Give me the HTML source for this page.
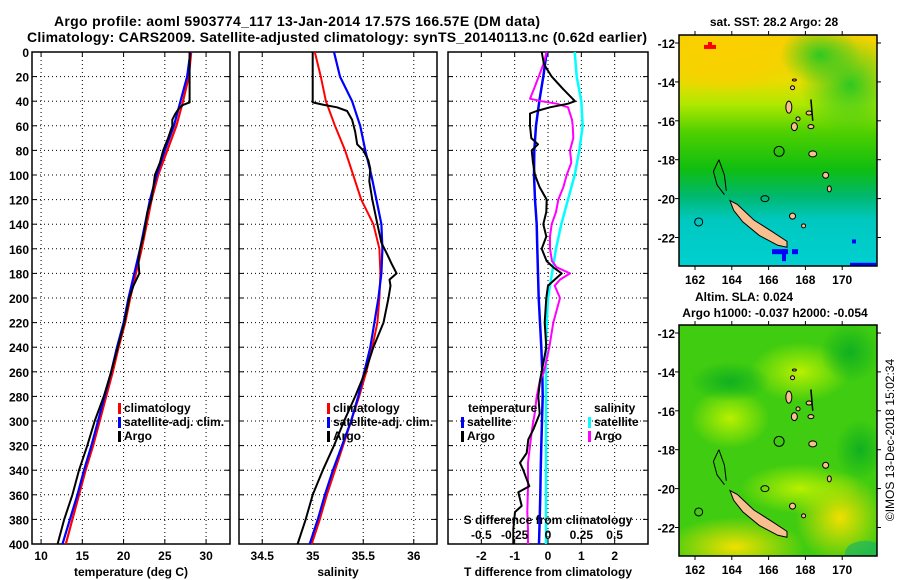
<!DOCTYPE html>
<html><head><meta charset="utf-8"><style>
html,body{margin:0;padding:0;background:#fff;}
svg{display:block;font-family:"Liberation Sans",sans-serif;font-weight:bold;}
</style></head><body>
<svg id="fig" width="900" height="580" viewBox="0 0 900 580" xmlns="http://www.w3.org/2000/svg">
<defs>
<linearGradient id="sstg" x1="0" y1="0" x2="0" y2="1">
<stop offset="0" stop-color="#f8d000"/><stop offset="0.2" stop-color="#e8dc00"/><stop offset="0.3" stop-color="#b0e800"/>
<stop offset="0.42" stop-color="#50d000"/><stop offset="0.58" stop-color="#10be10"/><stop offset="0.7" stop-color="#00b870"/>
<stop offset="0.8" stop-color="#00c8c0"/><stop offset="1" stop-color="#00d0d0"/></linearGradient>
<radialGradient id="sstY" cx="0.5" cy="0.5" r="0.5"><stop offset="0" stop-color="#fcd000"/><stop offset="0.6" stop-color="#f8d000" stop-opacity="0.8"/><stop offset="1" stop-color="#f8d000" stop-opacity="0"/></radialGradient>
<radialGradient id="sstG" cx="0.5" cy="0.5" r="0.5"><stop offset="0" stop-color="#30c820"/><stop offset="1" stop-color="#30c820" stop-opacity="0"/></radialGradient>
<radialGradient id="sla1" cx="0.5" cy="0.5" r="0.5"><stop offset="0" stop-color="#b8f000"/><stop offset="1" stop-color="#b8f000" stop-opacity="0"/></radialGradient>
<radialGradient id="sla2" cx="0.5" cy="0.5" r="0.5"><stop offset="0" stop-color="#f0e000"/><stop offset="1" stop-color="#f0e000" stop-opacity="0"/></radialGradient>
<radialGradient id="sla3" cx="0.5" cy="0.5" r="0.5"><stop offset="0" stop-color="#10b020"/><stop offset="1" stop-color="#10b020" stop-opacity="0"/></radialGradient>
<clipPath id="clip1"><rect x="679" y="35" width="198" height="231"/></clipPath>
<clipPath id="clip2"><rect x="679" y="325" width="198" height="231"/></clipPath>
</defs>
<g>
<text x="297" y="26" text-anchor="middle" font-size="14" textLength="486">Argo profile: aoml 5903774_117 13-Jan-2014 17.57S 166.57E (DM data)</text>
<text x="337" y="42" text-anchor="middle" font-size="14" textLength="620">Climatology: CARS2009. Satellite-adjusted climatology: synTS_20140113.nc (0.62d earlier)</text>
</g>
<g id="plots"></g>
<g id="maps"></g>
<text transform="translate(894,440) rotate(-90)" text-anchor="middle" font-size="12" font-weight="normal">©IMOS 13-Dec-2018 15:02:34</text>
</svg>
<script>
// ---- data ----
const climDepth = [0,20,40,60,80,100,120,140,160,180,200,220,240,260,280,300,320,340,360,380,400];
const tempClim = [28.2,27.9,27.2,26.4,25.3,24.2,23.4,22.8,22.2,21.5,20.8,20.2,19.4,18.7,17.9,17.1,16.3,15.4,14.6,13.8,13.0];
const tempSat = [28.1,27.7,26.9,26.1,25.0,24.0,23.2,22.6,22.0,21.3,20.6,20.0,19.2,18.5,17.7,16.9,16.1,15.2,14.4,13.5,12.6];
const argoTDepth = [0,10,20,30,41,43,46,50,55,60,70,80,90,100,110,120,130,140,150,160,170,180,190,200,220,240,260,280,300,320,340,360,380,400];
const argoTemp = [28.0,28.0,28.0,28.0,28.0,27.2,26.7,26.3,25.9,25.9,25.4,24.8,24.4,23.8,23.6,23.36,22.9,22.66,22.4,22.0,21.8,21.9,21.2,20.7,20.1,19.3,18.5,17.6,16.5,15.6,14.6,13.8,12.8,12.0];
const salClim = [35.02,35.08,35.13,35.22,35.32,35.40,35.48,35.60,35.66,35.67,35.66,35.64,35.59,35.53,35.46,35.38,35.30,35.22,35.14,35.07,34.99];
const salSat = [35.21,35.27,35.39,35.47,35.52,35.58,35.63,35.68,35.69,35.68,35.65,35.61,35.57,35.51,35.45,35.38,35.29,35.20,35.12,35.05,34.97];
const argoSDepth = [0,41,43,45,48,55,65,75,80,88,95,105,110,120,140,155,165,172,180,185,190,200,220,240,260,280,300,320,340,360,380,400];
const argoSal = [35.0,35.0,35.11,35.24,35.34,35.39,35.42,35.44,35.5,35.55,35.57,35.56,35.57,35.59,35.64,35.68,35.74,35.78,35.83,35.76,35.77,35.75,35.70,35.60,35.52,35.42,35.31,35.21,35.10,35.0,34.93,34.85];
const dTsat = [-0.04,-0.14,-0.26,-0.36,-0.41,-0.42,-0.39,-0.34,-0.32,-0.3,-0.28,-0.24,-0.2,-0.17,-0.16,-0.18,-0.2,-0.22,-0.23,-0.25,-0.27];
const dSsat = [0.20,0.215,0.25,0.26,0.235,0.20,0.15,0.10,0.06,0.03,0.0,-0.01,-0.015,-0.015,-0.015,-0.015,-0.015,-0.015,-0.015,-0.015,-0.015];
const dTargoDepth = [0,10,20,30,40,42,45,48,50,60,70,75,80,90,100,110,120,130,140,150,160,170,175,180,185,190,200,220,240,267,280,294,307,315,326,334,340,353,358,369,374,388,400];
const dTargo = [-0.19,-0.12,0.11,0.45,0.81,0.6,0.06,-0.34,-0.54,-0.54,-0.5,-0.3,-0.49,-0.45,-0.39,-0.25,-0.04,-0.05,-0.14,-0.05,-0.19,-0.04,0.16,0.41,0.2,0.0,-0.05,-0.1,-0.05,-0.24,-0.29,-0.25,-0.44,-0.59,-0.64,-0.84,-0.74,-0.56,-0.89,-0.79,-0.99,-1.04,-1.04];
const dSargoDepth = [0,10,20,30,38,40,42,45,55,60,70,80,90,100,110,120,130,140,150,160,170,175,180,185,190,200,220,240,260,267,280,294,307,320,334,353,374,388,400];
const dSargo = [-0.01,-0.035,-0.07,-0.105,-0.135,-0.05,0.065,0.15,0.18,0.185,0.19,0.165,0.175,0.14,0.115,0.077,0.06,0.028,0.015,0.015,0.03,0.065,0.165,0.09,0.05,0.09,0.04,0.01,-0.03,-0.06,-0.085,-0.1,-0.12,-0.135,-0.15,-0.15,-0.155,-0.15,-0.15];
const depthTicks = [0,20,40,60,80,100,120,140,160,180,200,220,240,260,280,300,320,340,360,380,400];
const tempTicks = [10,15,20,25,30];
const salTicks = [34.5,35,35.5,36];
const dTTicks = [-2,-1,0,1,2];
const dSTicks = [-0.5,-0.25,0,0.25,0.5];
const dSTickLabels = ['-0.5','-0.25','0','0.25','0.5'];
const latTicks = [-12,-14,-16,-18,-20,-22];
const lonTicks = [162,164,166,168,170];

const NS='http://www.w3.org/2000/svg';
function mk(tag, attrs, parent, txt){const e=document.createElementNS(NS,tag);for(const k in attrs)e.setAttribute(k,attrs[k]);if(txt!==undefined)e.textContent=txt;parent.appendChild(e);return e;}
const plots=document.getElementById('plots');
const Y0=52, Y1=544;
const yD = d => Y0 + d*(Y1-Y0)/400;

function panel(name, x0, x1, vmin, vmax, grid){
  const g=mk('g',{},plots);
  
  
  const sx = v => x0 + (v-vmin)*(x1-x0)/(vmax-vmin);
  const fr=mk('rect',{x:x0,y:Y0,width:x1-x0,height:Y1-Y0,fill:'#fff',stroke:'#000','stroke-width':1.5},g);
  
  
  for(const d of depthTicks){ if(d>0&&d<400){
    const l=mk('line',{x1:x0,x2:x1,y1:yD(d),y2:yD(d),stroke:'#000','stroke-width':1,'stroke-dasharray':'1,3'},g);
     
    mk('line',{x1:x0,x2:x0+5,y1:yD(d),y2:yD(d),stroke:'#000'},g); mk('line',{x1:x1-5,x2:x1,y1:yD(d),y2:yD(d),stroke:'#000'},g);}}
  for(const v of grid){
    const l=mk('line',{x1:sx(v),x2:sx(v),y1:Y0,y2:Y1,stroke:'#000','stroke-width':1,'stroke-dasharray':'1,3'},g);
     
    mk('line',{x1:sx(v),x2:sx(v),y1:Y1-5,y2:Y1,stroke:'#000'},g); mk('line',{x1:sx(v),x2:sx(v),y1:Y0,y2:Y0+5,stroke:'#000'},g);
  }
  return {g,sx};
}
function line(p, depths, vals, color, w, name){
  const pts=depths.map((d,i)=>p.sx(vals[i]).toFixed(1)+','+yD(d).toFixed(1)).join(' ');
  const e=mk('polyline',{points:pts,fill:'none',stroke:color,'stroke-width':w,'stroke-linejoin':'round'},p.g);
  
  
}
function text(parent,x,y,s,anchor,size,name){
  const t=mk('text',{x:x,y:y,'text-anchor':anchor||'middle','font-size':size||12},parent,s);
  
  
  return t;
}
function legend(parent,x,y,items){
  items.forEach((it,i)=>{
    const r=mk('rect',{x:x,y:y+i*14-9,width:3,height:11,fill:it[1]},parent);
     
    if(it[0]) text(parent,x+6,y+i*14,it[0],'start',12,'legend-entry');
  });
}
const yl=mk('g',{},plots);
 
for(const d of depthTicks) text(yl,29,yD(d)+5,String(d),'end',12,'depth-tick-label');

const p1=panel('temperature-panel',32,230,8.9,32.9,tempTicks);
line(p1,climDepth,tempClim,'#ff0000',2.2,'temp-climatology-line');
line(p1,climDepth,tempSat,'#0000ff',2.2,'temp-satellite-line');
line(p1,argoTDepth,argoTemp,'#000',2,'temp-argo-line');
for(const v of tempTicks) text(p1.g,p1.sx(v),560,String(v),'middle',12,'temp-tick-label');
text(p1.g,131,576,'temperature (deg C)','middle',12,'x-axis-title-temperature');
legend(p1.g,118,412,[['climatology','#ff0000'],['satellite-adj. clim.','#0000ff'],['Argo','#000']]);

const p2=panel('salinity-panel',239,437,34.27,36.23,salTicks);
line(p2,climDepth,salClim,'#ff0000',2,'sal-climatology-line');
line(p2,climDepth,salSat,'#0000ff',2.2,'sal-satellite-line');
line(p2,argoSDepth,argoSal,'#000',2,'sal-argo-line');
for(const v of salTicks) text(p2.g,p2.sx(v),560,String(v),'middle',12,'sal-tick-label');
text(p2.g,338,576,'salinity','middle',12,'x-axis-title-salinity');
legend(p2.g,327,412,[['climatology','#ff0000'],['satellite-adj. clim.','#0000ff'],['Argo','#000']]);

const p3=panel('difference-panel',448,648,-3,3,dTTicks);
const sxS = v => 548 + v*133.3;
const p3s={g:p3.g,sx:sxS};
line(p3,climDepth,dTsat,'#0000ff',2.5,'dT-satellite-line');
line(p3s,climDepth,dSsat,'#00ffff',2.5,'dS-satellite-line');
line(p3s,dSargoDepth,dSargo,'#ff00ff',2,'dS-argo-line');
line(p3,dTargoDepth,dTargo,'#000',2,'dT-argo-line');
for(const v of dTTicks) text(p3.g,p3.sx(v),560,String(v),'middle',12,'dT-tick-label');
dSTicks.forEach((v,i)=>text(p3.g,sxS(v),539,dSTickLabels[i],'middle',12,'dS-tick-label'));
text(p3.g,548,524,'S difference from climatology','middle',12,'dS-axis-title');
text(p3.g,548,576,'T difference from climatology','middle',12,'x-axis-title-dT');
text(p3.g,468,412,'temperature','start',12,'legend-title-temperature');
legend(p3.g,461,426,[['satellite','#0000ff'],['Argo','#000']]);
text(p3.g,594,412,'salinity','start',12,'legend-title-salinity');
legend(p3.g,588,426,[['satellite','#00ffff'],['Argo','#ff00ff']]);

const maps=document.getElementById('maps');
function drawMap(name, top, kind, clip){
  const g=mk('g',{},maps);
  
  
  const bg=mk('g',{'clip-path':'url(#'+clip+')'},g);
  const X0=679,X1=877,Yb=top+231;
  const lx = lon => 695 + (lon-162)*18.4;
  const ly = lat => top+8 + (-12-lat)*19.45;
  if(kind==='sst'){
    mk('rect',{x:X0,y:top,width:X1-X0,height:Yb-top,fill:'url(#sstg)'},bg);
    mk('ellipse',{cx:725,cy:top+10,rx:90,ry:50,fill:'url(#sstY)'},bg);
    mk('ellipse',{cx:850,cy:top+50,rx:50,ry:50,fill:'url(#sstG)'},bg);
    mk('ellipse',{cx:820,cy:top+20,rx:40,ry:30,fill:'url(#sstG)'},bg);
    mk('rect',{x:704,y:ly(-12.1),width:12,height:4,fill:'#ff0000'},bg);
    mk('rect',{x:708,y:ly(-11.95),width:4,height:4,fill:'#ff0000'},bg);
    mk('rect',{x:850,y:ly(-23.3),width:26,height:8,fill:'#0000ff'},bg);
    mk('rect',{x:772,y:ly(-22.6),width:16,height:5,fill:'#0000ff'},bg);
    mk('rect',{x:782,y:ly(-22.6),width:4,height:12,fill:'#0000ff'},bg);
    mk('rect',{x:792,y:ly(-22.6),width:6,height:5,fill:'#0000ff'},bg);
    mk('rect',{x:852,y:ly(-22.1),width:4,height:4,fill:'#0000ff'},bg);
  } else {
    mk('rect',{x:X0,y:top,width:X1-X0,height:Yb-top,fill:'#40cc10'},bg);
    mk('ellipse',{cx:730,cy:ly(-16.4),rx:40,ry:30,fill:'url(#sla1)'},bg);
    mk('ellipse',{cx:800,cy:ly(-14),rx:50,ry:30,fill:'url(#sla1)'},bg);
    mk('ellipse',{cx:735,cy:ly(-23),rx:70,ry:30,fill:'url(#sla2)'},bg);
    mk('ellipse',{cx:840,cy:ly(-21.5),rx:45,ry:45,fill:'url(#sla2)'},bg);
    mk('ellipse',{cx:800,cy:ly(-20),rx:60,ry:25,fill:'url(#sla1)'},bg);
    mk('ellipse',{cx:850,cy:ly(-13),rx:30,ry:30,fill:'url(#sla3)'},bg);
    mk('ellipse',{cx:860,cy:ly(-18),rx:25,ry:30,fill:'url(#sla3)'},bg);
    mk('ellipse',{cx:730,cy:ly(-14.5),rx:40,ry:20,fill:'url(#sla3)'},bg);
    mk('ellipse',{cx:865,cy:ly(-23.3),rx:20,ry:12,fill:'#10b070',opacity:0.6},bg);
  }
  const land={fill:'#f8c090',stroke:'#000','stroke-width':1};
  const nc=[[163.9,-20.1],[164.3,-20.3],[165.2,-21.1],[166.2,-21.7],[167,-22.2],[167,-22.5],[166.5,-22.4],[165.5,-21.9],[164.6,-21.2],[164.1,-20.6]];
  mk('polygon',Object.assign({points:nc.map(p=>lx(p[0])+','+ly(p[1])).join(' ')},land),g);
  const isl=[[167.1,-15.3,3,6],[167.6,-15.9,2,2],[167.4,-16.3,3,4],[168.2,-15.6,3,2],[168.3,-16.3,3,2],[168.4,-17.7,4,3],[169.1,-18.8,3,3],[169.3,-19.5,2,3],[167.3,-20.9,3,3],[167.9,-21.4,2,2],[167.3,-14.3,2,2],[167.4,-13.9,2,1]];
  for(const s of isl) mk('ellipse',Object.assign({cx:lx(s[0]),cy:ly(s[1]),rx:s[2],ry:s[3]},land),g);
  mk('path',{d:`M${lx(163.3)},${ly(-18)} L${lx(163)},${ly(-18.6)} L${lx(163.2)},${ly(-19.3)} L${lx(163.6)},${ly(-19.8)} M${lx(163.3)},${ly(-18)} L${lx(163.6)},${ly(-18.8)} L${lx(163.7)},${ly(-19.6)}`,fill:'none',stroke:'#000','stroke-width':1},g);
  mk('ellipse',{cx:lx(165.8),cy:ly(-20),rx:4,ry:3,fill:'none',stroke:'#000'},g);
  mk('ellipse',{cx:lx(162.2),cy:ly(-21.2),rx:4,ry:4,fill:'none',stroke:'#000'},g);
  mk('line',{x1:lx(168.3),y1:ly(-14.9),x2:lx(168.4),y2:ly(-16),stroke:'#000','stroke-width':1.5},g);
  const c=mk('circle',{cx:lx(166.57),cy:ly(-17.57),r:5,fill:'none',stroke:'#000','stroke-width':1},g);
   
  const fr=mk('rect',{x:X0,y:top,width:X1-X0,height:Yb-top,fill:'none',stroke:'#000','stroke-width':1.5},g);
   
  for(const la of latTicks){
    mk('line',{x1:X0-4,x2:X0,y1:ly(la),y2:ly(la),stroke:'#000'},g);
    mk('line',{x1:X1,x2:X1+4,y1:ly(la),y2:ly(la),stroke:'#000'},g);
    text(g,675,ly(la)+5,String(la),'end',12,'lat-tick-label');
  }
  for(const lo of lonTicks){
    mk('line',{x1:lx(lo),x2:lx(lo),y1:Yb,y2:Yb+4,stroke:'#000'},g);
    mk('line',{x1:lx(lo),x2:lx(lo),y1:top-4,y2:top,stroke:'#000'},g);
    text(g,lx(lo),Yb+18,String(lo),'middle',12,'lon-tick-label');
  }
}
drawMap('sst-map',35,'sst','clip1');
drawMap('sla-map',325,'sla','clip2');
const svgEl=document.getElementById('fig');
text(svgEl,774,26,'sat. SST: 28.2 Argo: 28','middle',12,'sst-map-title');
text(svgEl,744,301,'Altim. SLA: 0.024','middle',12,'sla-map-title');
text(svgEl,775,317,'Argo h1000: -0.037 h2000: -0.054','middle',12,'sla-map-subtitle');
</script>
</body></html>
